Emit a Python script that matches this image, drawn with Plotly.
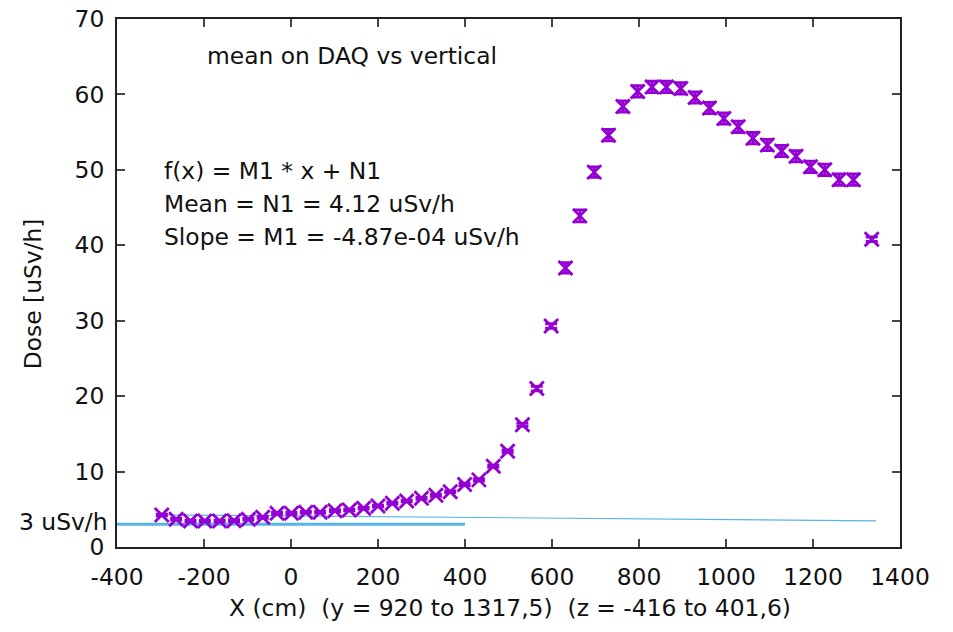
import plotly.graph_objects as go

# Measured dose along X (cm) with per-point uncertainty
x_cm = [-297, -264, -231, -198, -164, -131, -98, -65, -32, 1,
        34, 67, 101, 134, 167, 200, 233, 266, 300, 333,
        366, 399, 432, 465, 498, 532, 565, 598, 631, 664,
        697, 730, 763, 797, 830, 863, 896, 929, 962, 995,
        1028, 1062, 1095, 1128, 1161, 1194, 1227, 1260, 1293, 1335]
dose = [4.24, 3.67, 3.45, 3.45, 3.45, 3.49, 3.67, 3.93, 4.46, 4.46,
        4.6, 4.6, 4.82, 4.9, 5.13, 5.44, 5.8, 6.1, 6.45, 6.85,
        7.33, 8.3, 8.9, 10.7, 12.7, 16.2, 21.0, 29.3, 37.0, 43.9,
        49.7, 54.6, 58.4, 60.4, 61.0, 61.0, 60.8, 59.6, 58.2, 56.8,
        55.7, 54.2, 53.3, 52.5, 51.8, 50.4, 50.0, 48.7, 48.7, 40.8]
dose_err = [0.12, 0.12, 0.12, 0.12, 0.12, 0.12, 0.12, 0.12, 0.12, 0.12,
            0.12, 0.12, 0.12, 0.12, 0.12, 0.12, 0.12, 0.12, 0.12, 0.12,
            0.12, 0.15, 0.15, 0.15, 0.18, 0.2, 0.3, 0.3, 0.7, 0.8,
            0.7, 0.75, 0.75, 0.75, 0.75, 0.75, 0.75, 0.75, 0.75, 0.75,
            0.75, 0.75, 0.75, 0.75, 0.75, 0.75, 0.75, 0.75, 0.75, 0.3]

# Linear fit f(x) = M1 * x + N1
M1 = -4.87e-04
N1 = 4.12
fit_x = [-300, 1345]
fit_y = [M1 * v + N1 for v in fit_x]

# Reference level
limit_value = 3
limit_x = [-400, 400]

x_ticks = [-400, -200, 0, 200, 400, 600, 800, 1000, 1200, 1400]
y_ticks = [0, 10, 20, 30, 40, 50, 60, 70]

FONT = "DejaVu Sans"
FS = 23.4
PURPLE = "#9400d3"
BLUE = "#56b4e9"

fig = go.Figure()

fig.add_trace(go.Scatter(
    x=limit_x, y=[limit_value, limit_value], mode="lines",
    line=dict(color=BLUE, width=3), hoverinfo="skip", showlegend=False))

fig.add_trace(go.Scatter(
    x=fit_x, y=fit_y, mode="lines",
    line=dict(color=BLUE, width=1.2), showlegend=False))

fig.add_trace(go.Scatter(
    x=x_cm, y=dose, mode="markers",
    marker=dict(symbol="x-thin", size=14, color=PURPLE,
                line=dict(color=PURPLE, width=2.8)),
    error_y=dict(type="data", array=dose_err, visible=True,
                 color=PURPLE, thickness=2.8, width=6),
    showlegend=False))

axis_common = dict(
    showline=True, linecolor="#222", linewidth=2, mirror="allticks",
    ticks="inside", ticklen=8, tickwidth=2, tickcolor="#444",
    showgrid=False, zeroline=False, automargin=False,
    tickfont=dict(family=FONT, size=FS, color="#111"),
)

fig.update_xaxes(range=[-400, 1400], tickvals=x_ticks,
                 ticktext=[str(v) for v in x_ticks],
                 ticklabelstandoff=8, **axis_common)
fig.update_yaxes(range=[0, 70], tickvals=y_ticks,
                 ticktext=[str(v) for v in y_ticks],
                 ticklabelstandoff=6, **axis_common)

text_font = dict(family=FONT, size=FS, color="#111")
annotations = [
    dict(text="mean on DAQ vs vertical", x=0.1124, y=0.93,
         xanchor="left", yanchor="middle"),
    dict(text="f(x) = M1 * x + N1", x=0.0575, y=0.712,
         xanchor="left", yanchor="middle"),
    dict(text=f"Mean = N1 = {N1:.2f} uSv/h", x=0.0575, y=0.650,
         xanchor="left", yanchor="middle"),
    dict(text=f"Slope = M1 = {M1:.2e} uSv/h".replace("e-4", "e-04"),
         x=0.0575, y=0.587, xanchor="left", yanchor="middle"),
    dict(text="Dose [uSv/h]", x=-0.107, y=0.479, textangle=-90,
         xanchor="center", yanchor="middle"),
    dict(text="X (cm)  (y = 920 to 1317,5)  (z = -416 to 401,6)",
         x=0.502, y=-0.1155, xanchor="center", yanchor="middle"),
]
for a in annotations:
    fig.add_annotation(xref="paper", yref="paper", showarrow=False,
                       font=text_font, **a)

fig.add_annotation(text=f"{limit_value} uSv/h", xref="paper", yref="y",
                   x=0, y=limit_value, xanchor="right", yanchor="middle",
                   xshift=-8, yshift=2, borderpad=0, showarrow=False,
                   font=text_font)

fig.update_layout(
    width=953, height=632,
    margin=dict(l=117, r=53, t=19, b=85),
    paper_bgcolor="white", plot_bgcolor="white",
    font=dict(family=FONT, size=FS),
)

fig.write_html("out.html")
